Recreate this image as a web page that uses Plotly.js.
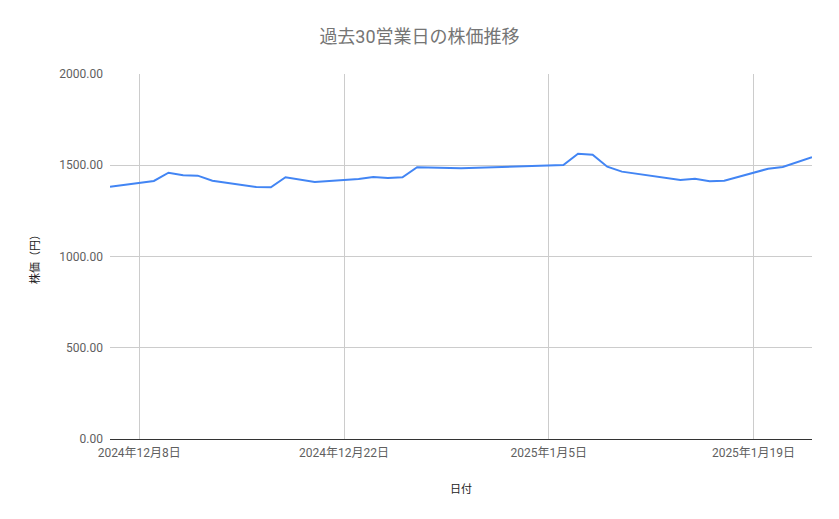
<!DOCTYPE html>
<html>
<head>
<meta charset="utf-8">
<script src="https://cdn.plot.ly/plotly-3.0.1.min.js"></script>
<style>
  html, body { margin: 0; padding: 0; background: #fff; }
  #chart { width: 839px; height: 519px; }
</style>
</head>
<body>
<div id="chart"></div>
<script>
// 営業日と終値
const dates = [
  '2024-12-06', '2024-12-09', '2024-12-10', '2024-12-11', '2024-12-12', '2024-12-13',
  '2024-12-16', '2024-12-17', '2024-12-18', '2024-12-19', '2024-12-20',
  '2024-12-23', '2024-12-24', '2024-12-25', '2024-12-26', '2024-12-27', '2024-12-30',
  '2025-01-06', '2025-01-07', '2025-01-08', '2025-01-09', '2025-01-10',
  '2025-01-14', '2025-01-15', '2025-01-16', '2025-01-17',
  '2025-01-20', '2025-01-21', '2025-01-22', '2025-01-23'
];
const prices = [
  1382, 1414, 1459, 1445, 1443, 1415,
  1381, 1379, 1434, 1419, 1408,
  1425, 1436, 1430, 1434, 1489, 1484,
  1501, 1563, 1558, 1492, 1465,
  1419, 1426, 1412, 1415,
  1481, 1490, 1516, 1544
];

const xTickVals = ['2024-12-08', '2024-12-22', '2025-01-05', '2025-01-19'];
const xTickText = ['2024年12月8日', '2024年12月22日', '2025年1月5日', '2025年1月19日'];

const fontFamily = "Roboto, 'Noto Sans CJK JP', sans-serif";

const trace = {
  x: dates,
  y: prices,
  type: 'scatter',
  mode: 'lines',
  line: { color: '#4285F4', width: 2 },
  hoverinfo: 'none'
};

const layout = {
  width: 839,
  height: 519,
  paper_bgcolor: '#fff',
  plot_bgcolor: '#fff',
  showlegend: false,
  margin: { l: 110, r: 27, t: 74, b: 80 },
  font: { family: fontFamily, color: '#444', size: 12 },
  title: {
    text: '過去30営業日の株価推移',
    font: { family: fontFamily, size: 18, color: '#757575' },
    x: 0.5, xanchor: 'center',
    y: 0.929, yanchor: 'middle'
  },
  xaxis: {
    type: 'date',
    range: ['2024-12-06', '2025-01-23'],
    tickvals: xTickVals,
    ticktext: xTickText,
    tickfont: { size: 12, color: '#5f5f5f' },
    ticklabelstandoff: 5,
    showgrid: true,
    gridcolor: '#cccccc',
    zeroline: false,
    showline: false,
    ticks: '',
    title: { text: '日付', font: { size: 11, color: '#222' }, standoff: 26 }
  },
  yaxis: {
    range: [0, 2000],
    dtick: 500,
    tickformat: '.2f',
    tickfont: { size: 12, color: '#5f5f5f' },
    ticklabelstandoff: 6,
    showgrid: true,
    gridcolor: '#cccccc',
    zeroline: true,
    zerolinecolor: '#333',
    zerolinewidth: 1,
    ticks: '',
    title: { text: '株価（円）', font: { size: 11, color: '#222' }, standoff: 17 }
  }
};

Plotly.newPlot('chart', [trace], layout, { displayModeBar: false, staticPlot: true });
</script>
</body>
</html>
